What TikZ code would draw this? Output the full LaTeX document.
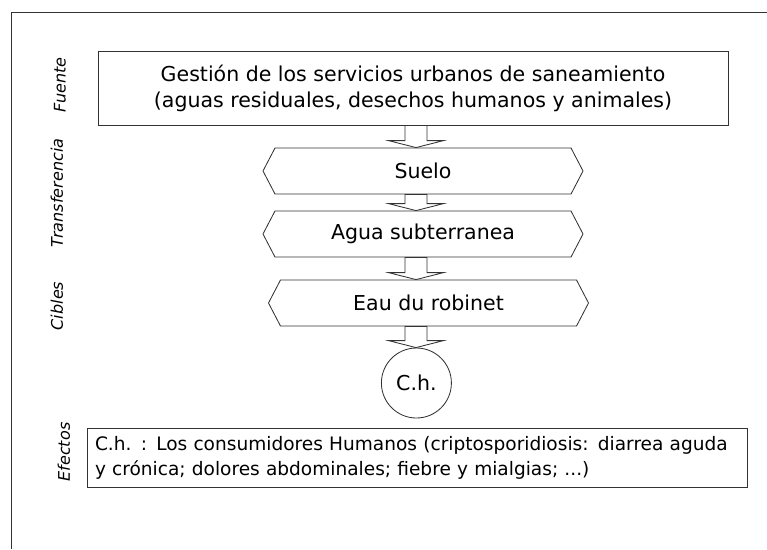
\documentclass[tikz,border=0pt]{standalone}
\usepackage{fontspec}
\setmainfont{DejaVu Sans}
\usetikzlibrary{shapes.symbols, positioning, calc}

\begin{document}
\begin{tikzpicture}[
    box/.style={rectangle, draw=black!80, line width=0.6pt, align=center,
                font=\fontsize{14.6}{18.5}\selectfont},
    layer/.style={signal, signal to=west and east, signal pointer angle=125, draw=black!80,
                line width=0.6pt, minimum height=1.15cm, minimum width=8cm, inner sep=0pt,
                font=\fontsize{14.6}{18.5}\selectfont},
    side/.style={rotate=90, font=\itshape\fontsize{11.4}{14}\selectfont},
    blockarrow/.style={draw=black!80, line width=0.6pt, fill=white,
                to path={let \p1=(\tikztostart), \p2=(\tikztotarget) in
                (\x1-0.275cm,\y1) -- (\x1+0.275cm,\y1) -- (\x1+0.275cm,\y2+0.175cm)
                -- (\x1+0.69cm,\y2+0.175cm) -- (\x1,\y2) -- (\x1-0.69cm,\y2+0.175cm)
                -- (\x1-0.275cm,\y2+0.175cm) -- cycle}}
]
    \useasboundingbox (0,0) rectangle (19.175,13.725);
    \draw[black!80, line width=0.6pt] (0.275,0) -- (0.275,13.425) -- (19.175,13.425);

    % levels
    \node[side] (fuentelbl) at (1.5,11.6) {Fuente};
    \node[side] (translbl) at (1.425,8.9) {Transferencia};
    \node[side] (cibleslbl) at (1.425,6.075) {Cibles};
    \node[side] (efectoslbl) at (1.6,2.425) {Efectos};

    % chain
    \node[box, minimum width=15.75cm, minimum height=1.85cm] (fuente) at (10.325,11.525)
        {Gestión de los servicios urbanos de saneamiento\\(aguas residuales, desechos humanos y animales)};
    \node[layer] (suelo) at (10.575,9.45) {Suelo};
    \node[layer] (agua) at (10.575,7.875) {Agua subterranea};
    \node[layer] (eau) at (10.7125,6.15) {Eau du robinet};
    \node[circle, draw=black!80, line width=0.6pt, minimum size=1.75cm, inner sep=0pt,
          font=\fontsize{14.6}{18.5}\selectfont] (ch) at (10.41,4.15) {C.h.};
    \node[box, minimum width=16.5cm, minimum height=1.425cm, text width=16.1cm, align=left,
          inner sep=0.2cm, font=\fontsize{13.2}{17.8}\selectfont] (efectos) at (10.425,2.2875)
        {C.h. : Los consumidores Humanos (criptosporidiosis: diarrea aguda\\y crónica; dolores abdominales; fiebre y mialgias; ...)};

    \coordinate (axis) at (10.4,0);
    \draw[blockarrow] (fuente.south -| axis) to (suelo.north -| axis);
    \draw[blockarrow] (suelo.south -| axis) to (agua.north -| axis);
    \draw[blockarrow] (agua.south -| axis) to (eau.north -| axis);
    \draw[blockarrow] (eau.south -| axis) to (ch.north);
\end{tikzpicture}
\end{document}
